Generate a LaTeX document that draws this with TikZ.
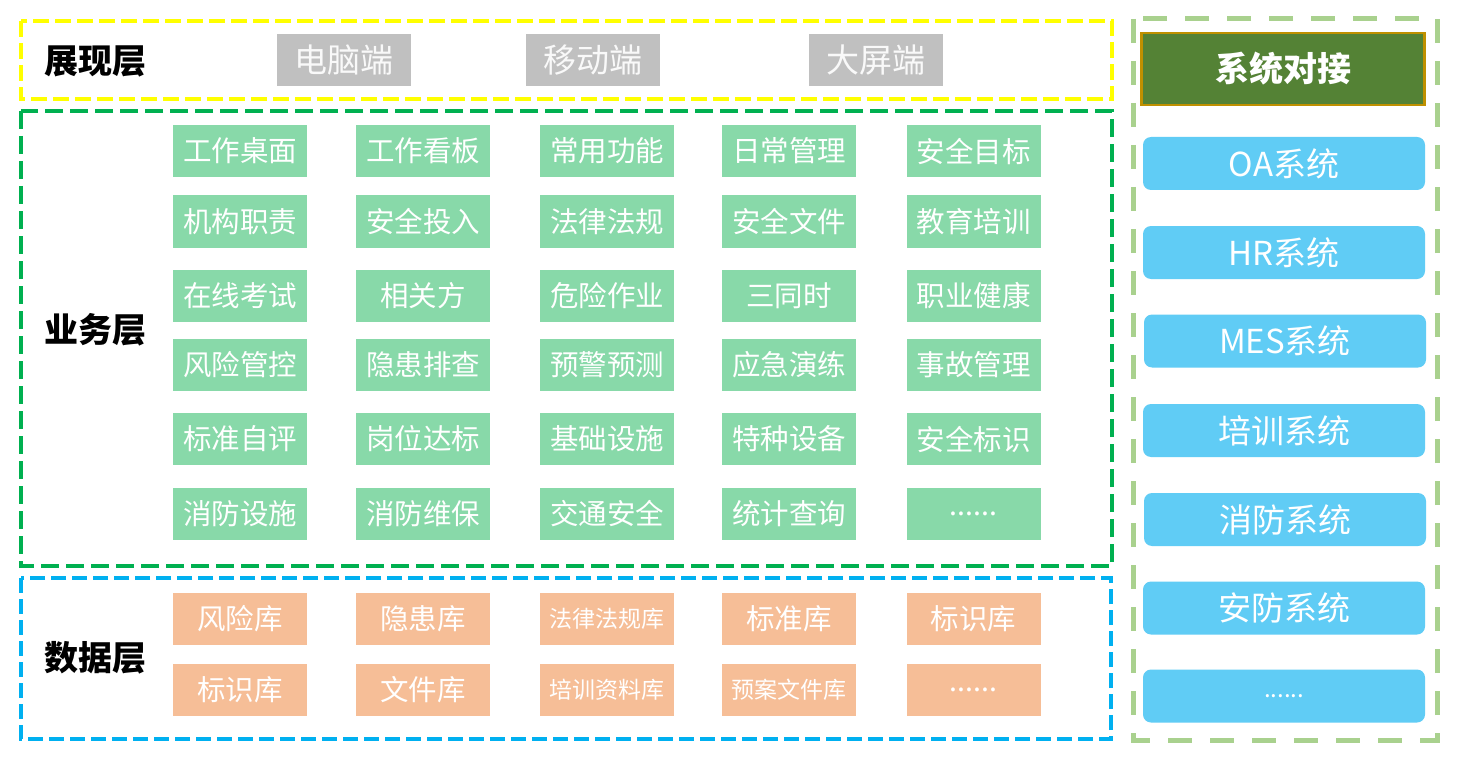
\documentclass[tikz,border=0pt]{standalone}
\usepackage{fontspec}
\setmainfont{Noto Sans CJK SC}
\definecolor{gfill}{HTML}{88D9A9}
\definecolor{grayfill}{HTML}{C0C0C0}
\definecolor{ofill}{HTML}{F6BE97}
\definecolor{bfill}{HTML}{60CCF5}
\definecolor{dgfill}{HTML}{548235}
\definecolor{dgline}{HTML}{BF9000}
\definecolor{yframe}{HTML}{FFFF00}
\definecolor{gframe}{HTML}{00B050}
\definecolor{bframe}{HTML}{00B0F0}
\definecolor{lgframe}{HTML}{A9D18E}
\tikzset{
  cell/.style={inner sep=0pt, minimum width=134pt, minimum height=52pt, text=white, font=\fontsize{28.5pt}{31pt}\selectfont},
  gcell/.style={cell, fill=gfill},
  pcell/.style={cell, fill=grayfill, text=white!95!gray, font=\fontsize{33pt}{36pt}\selectfont},
  ocell/.style={cell, fill=ofill},
  osmall/.style={ocell, font=\fontsize{23pt}{25pt}\selectfont},
  syscell/.style={inner sep=0pt, minimum width=282pt, minimum height=53pt, fill=bfill, rounded corners=8pt, text=white, font=\fontsize{33pt}{36pt}\selectfont},
  headcell/.style={inner sep=0pt, minimum width=283pt, minimum height=72pt, fill=dgfill, draw=dgline, line width=2.5pt, text=white, font=\fontsize{34pt}{37pt}\selectfont\bfseries},
  layerlabel/.style={inner sep=0pt, text=black, font=\fontsize{34pt}{37pt}\selectfont\bfseries},
  frame/.style={line width=4pt, dash pattern=on 16pt off 6pt},
}
\begin{document}
\begin{tikzpicture}[x=1pt,y=-1pt]
\useasboundingbox[fill=white] (0,0) rectangle (1458,762);
% frames
\draw[frame, yframe] (21,21) rectangle (1112,99);
\draw[frame, gframe, dash pattern=on 18pt off 7pt] (21,111) rectangle (1112,566);
\draw[frame, bframe, dash pattern=on 15pt off 6pt] (21,578) rectangle (1111,739);
\draw[lgframe, line width=5pt, dash pattern=on 24pt off 18pt] (1133,19) rectangle (1437,740);
% layer labels
\node[layerlabel] (l1) at (95,61) {展现层};
\node[layerlabel] (l2) at (95,330) {业务层};
\node[layerlabel] (l3) at (95,658) {数据层};
% presentation
\node[pcell] (p1) at (344,60) {电脑端};
\node[pcell] (p2) at (593,60) {移动端};
\node[pcell] (p3) at (876,60) {大屏端};
% business rows
\node[gcell] (b11) at (240,151) {工作桌面};
\node[gcell] (b12) at (423,151) {工作看板};
\node[gcell] (b13) at (607,151) {常用功能};
\node[gcell] (b14) at (789,151) {日常管理};
\node[gcell] (b15) at (973.5,151) {安全目标};
\node[gcell] (b21) at (240,221.5) {机构职责};
\node[gcell] (b22) at (423,221.5) {安全投入};
\node[gcell] (b23) at (607,221.5) {法律法规};
\node[gcell] (b24) at (789,221.5) {安全文件};
\node[gcell] (b25) at (973.5,221.5) {教育培训};
\node[gcell] (b31) at (240,296) {在线考试};
\node[gcell] (b32) at (423,296) {相关方};
\node[gcell] (b33) at (607,296) {危险作业};
\node[gcell] (b34) at (789,296) {三同时};
\node[gcell] (b35) at (973.5,296) {职业健康};
\node[gcell] (b41) at (240,365) {风险管控};
\node[gcell] (b42) at (423,365) {隐患排查};
\node[gcell] (b43) at (607,365) {预警预测};
\node[gcell] (b44) at (789,365) {应急演练};
\node[gcell] (b45) at (973.5,365) {事故管理};
\node[gcell] (b51) at (240,439) {标准自评};
\node[gcell] (b52) at (423,439) {岗位达标};
\node[gcell] (b53) at (607,439) {基础设施};
\node[gcell] (b54) at (789,439) {特种设备};
\node[gcell] (b55) at (973.5,439) {安全标识};
\node[gcell] (b61) at (240,514) {消防设施};
\node[gcell] (b62) at (423,514) {消防维保};
\node[gcell] (b63) at (607,514) {交通安全};
\node[gcell] (b64) at (789,514) {统计查询};
\node[gcell] (b65) at (973.5,514) {......};
% data rows
\node[ocell] (d11) at (240,619) {风险库};
\node[ocell] (d12) at (423,619) {隐患库};
\node[osmall] (d13) at (607,619) {法律法规库};
\node[ocell] (d14) at (789,619) {标准库};
\node[ocell] (d15) at (973.5,619) {标识库};
\node[ocell] (d21) at (240,690) {标识库};
\node[ocell] (d22) at (423,690) {文件库};
\node[osmall] (d23) at (607,690) {培训资料库};
\node[osmall] (d24) at (789,690) {预案文件库};
\node[ocell] (d25) at (973.5,690) {......};
% system integration
\node[headcell] (s0) at (1283,69) {系统对接};
\node[syscell] (s1) at (1284,163.5) {OA系统};
\node[syscell] (s2) at (1284,252.5) {HR系统};
\node[syscell] (s3) at (1285,341) {MES系统};
\node[syscell] (s4) at (1284,430.5) {培训系统};
\node[syscell] (s5) at (1285,519.5) {消防系统};
\node[syscell] (s6) at (1284,608) {安防系统};
\node[syscell, font=\fontsize{24pt}{26pt}\selectfont] (s7) at (1284,696) {......};
\end{tikzpicture}
\end{document}
